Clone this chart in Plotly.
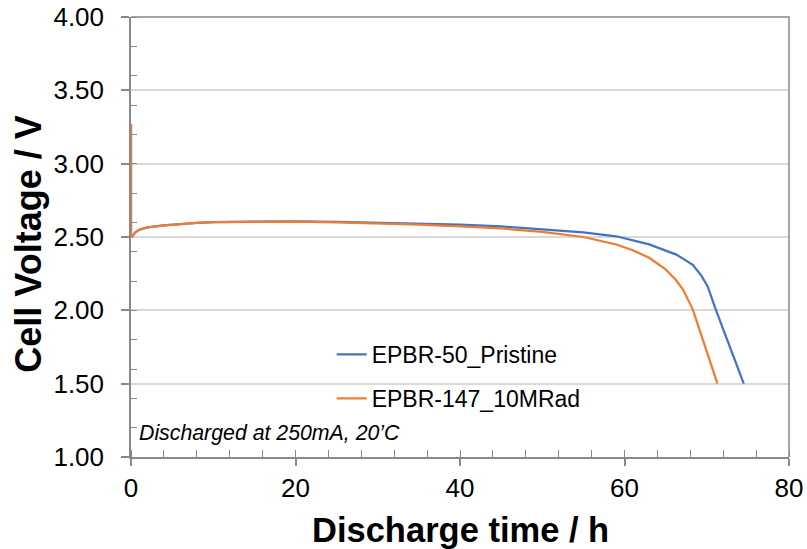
import plotly.graph_objects as go

# Data
t_pristine = [0, 0.0, 0.1, 0.5, 1, 2, 4, 6, 8, 10, 15, 20, 25, 30, 35, 40, 45, 50, 55,
              59, 63, 66.3, 67.3, 68.3, 69.3, 70.1, 71.1, 72.0, 72.8, 73.7, 74.5]
v_pristine = [3.27, 2.52, 2.50, 2.53, 2.55, 2.565, 2.58, 2.59, 2.597, 2.602, 2.606, 2.606, 2.603,
              2.598, 2.592, 2.585, 2.572, 2.552, 2.532, 2.505, 2.45, 2.38, 2.345, 2.31, 2.24,
              2.165, 2.005, 1.87, 1.75, 1.62, 1.50]

t_irradiated = [0, 0.0, 0.1, 0.5, 1, 2, 4, 6, 8, 10, 15, 20, 25, 30, 35, 40, 45, 50, 55,
                59, 61, 63, 65, 66.2, 67.1, 68.3, 69.1, 69.9, 70.6, 71.3]
v_irradiated = [3.27, 2.52, 2.50, 2.53, 2.55, 2.565, 2.58, 2.59, 2.597, 2.602, 2.606, 2.605, 2.60,
                2.593, 2.584, 2.573, 2.558, 2.535, 2.50, 2.449, 2.41, 2.358, 2.279, 2.21,
                2.143, 2.007, 1.87, 1.735, 1.62, 1.50]

series_names = ["EPBR-50_Pristine", "EPBR-147_10MRad"]
series_colors = ["#4472C4", "#ED7D31"]

y_ticks = [1.0, 1.5, 2.0, 2.5, 3.0, 3.5, 4.0]
x_ticks = [0, 20, 40, 60, 80]

fig = go.Figure()
fig.add_trace(go.Scatter(x=t_pristine, y=v_pristine, mode="lines", name=series_names[0],
                         line=dict(color=series_colors[0], width=2.25), legend="legend"))
fig.add_trace(go.Scatter(x=t_irradiated, y=v_irradiated, mode="lines", name=series_names[1],
                         line=dict(color=series_colors[1], width=2.25), legend="legend2"))

axis_color = "#898989"
font_family = "Liberation Sans, Arial, sans-serif"

fig.update_layout(
    width=807, height=549,
    margin=dict(l=131, r=18, t=17, b=92, autoexpand=False),
    plot_bgcolor="white", paper_bgcolor="white",
    showlegend=True,
    font=dict(family=font_family, color="#000000"),
    xaxis=dict(
        range=[0, 80], tickvals=x_ticks, ticktext=[str(v) for v in x_ticks],
        showgrid=False, zeroline=False, automargin=False, layer="below traces",
        showline=True, linecolor=axis_color, linewidth=1.5, mirror=False,
        ticks="outside", ticklen=7, tickwidth=1.5, tickcolor=axis_color,
        tickfont=dict(size=26, color="#000000"), ticklabeloverflow="allow",
        minor=dict(dtick=4, tick0=0, ticks="inside", ticklen=7, tickwidth=1.3,
                   tickcolor=axis_color, showgrid=False),
    ),
    yaxis=dict(
        range=[1.0, 4.0], tickvals=y_ticks, ticktext=[f"{v:.2f}" for v in y_ticks],
        showgrid=True, gridcolor="#D9D9D9", gridwidth=1.5, zeroline=False, automargin=False,
        layer="below traces",
        showline=True, linecolor=axis_color, linewidth=1.5, mirror=False,
        ticks="outside", ticklen=8, tickwidth=1.5, tickcolor=axis_color,
        tickfont=dict(size=26, color="#000000"), ticklabelstandoff=12,
        ticklabeloverflow="allow",
        minor=dict(dtick=0.2, tick0=1.0, ticks="inside", ticklen=6, tickwidth=1.3,
                   tickcolor=axis_color, showgrid=False),
    ),
    xaxis2=dict(range=[0, 80], overlaying="x", tickvals=x_ticks, showticklabels=False,
                showgrid=False, zeroline=False, showline=False, automargin=False,
                ticks="inside", ticklen=9, tickwidth=1.5, tickcolor=axis_color),
    yaxis2=dict(range=[1.0, 4.0], overlaying="y", tickvals=y_ticks, showticklabels=False,
                showgrid=False, zeroline=False, showline=False, automargin=False,
                ticks="inside", ticklen=8, tickwidth=1.5, tickcolor=axis_color),
    legend=dict(x=0.305, y=0.2334, xanchor="left", yanchor="middle",
                bgcolor="rgba(0,0,0,0)", font=dict(size=23, color="#000000")),
    legend2=dict(x=0.305, y=0.1334, xanchor="left", yanchor="middle",
                 bgcolor="rgba(0,0,0,0)", font=dict(size=23, color="#000000")),
    shapes=[
        # top and right frame of the plot area
        dict(type="path", xref="paper", yref="paper", path="M 0,1 L 1,1 L 1,0",
             line=dict(color=axis_color, width=1.5), layer="above"),
    ],
    annotations=[
        dict(text="<i>Discharged at 250mA, 20’C</i>", xref="paper", yref="paper",
             x=0.009, y=0.054, xanchor="left", yanchor="middle", showarrow=False,
             font=dict(size=21.3, color="#000000")),
        dict(text="<b>Cell Voltage / V</b>", xref="paper", yref="paper",
             x=-0.156, y=0.4834, xanchor="center", yanchor="middle", textangle=-90,
             showarrow=False, font=dict(size=36, color="#000000")),
        dict(text="<b>Discharge time / h</b>", xref="paper", yref="paper",
             x=0.5, y=-0.1666, xanchor="center", yanchor="middle",
             showarrow=False, font=dict(size=34.5, color="#000000")),
    ],
)

# remove the default page margin so the figure fills the window exactly
fig.write_html("out.html", config={"displayModeBar": False},
               post_script="document.body.style.margin='0px';")
